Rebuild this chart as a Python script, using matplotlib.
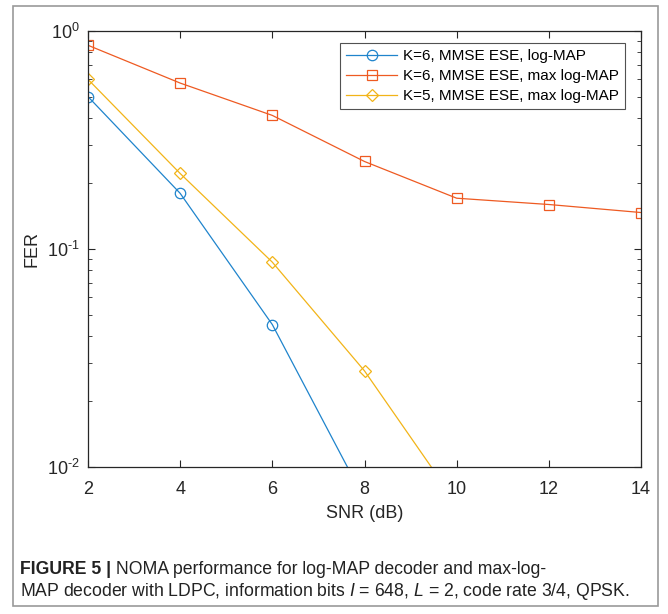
import matplotlib
matplotlib.use("Agg")
import matplotlib.pyplot as plt
from matplotlib.patches import Rectangle
from matplotlib.ticker import LogLocator, NullFormatter, FixedLocator, FixedFormatter

plt.rcParams['font.family'] = ['Liberation Sans', 'DejaVu Sans']
plt.rcParams['mathtext.fontset'] = 'custom'
plt.rcParams['mathtext.rm'] = 'Liberation Sans'
plt.rcParams['mathtext.it'] = 'Liberation Sans:italic'
plt.rcParams['mathtext.bf'] = 'Liberation Sans:bold'

snr_k6_log = [2, 4, 6, 8]
fer_k6_log = [0.50, 0.18, 0.045, 0.0071]
snr_k6_max = [2, 4, 6, 8, 10, 12, 14]
fer_k6_max = [0.86, 0.577, 0.41, 0.252, 0.171, 0.160, 0.147]
snr_k5_max = [2, 4, 6, 8, 10]
fer_k5_max = [0.60, 0.222, 0.087, 0.0276, 0.0068]
labels = ["K=6, MMSE ESE, log-MAP", "K=6, MMSE ESE, max log-MAP", "K=5, MMSE ESE, max log-MAP"]
xticks = [2, 4, 6, 8, 10, 12, 14]
yticks = [1e-2, 1e-1, 1]
ytick_labels = [r'$10^{\text{-}2}$', r'$10^{\text{-}1}$', r'$10^{0}$']

W, H = 668, 614
fig = plt.figure(figsize=(W / 100, H / 100), dpi=100)
fig.patch.set_facecolor('white')
frame = Rectangle((13 / W, 1 - 606 / H), 645 / W, 600 / H, transform=fig.transFigure,
                  facecolor='white', edgecolor='#9a9a9a', linewidth=1.2, zorder=-5)
fig.patches.append(frame)

ax = fig.add_axes([88 / W, 1 - 467 / H, 553 / W, 436 / H])
ax.set_zorder(2)
ax.plot(snr_k6_log, fer_k6_log, '-o', color='#1F84CC', lw=0.9, ms=7.5, mfc='none', mew=0.9, label=labels[0])
ax.plot(snr_k6_max, fer_k6_max, '-s', color='#EE5A22', lw=0.9, ms=7.5, mfc='none', mew=0.9, label=labels[1])
ax.plot(snr_k5_max, fer_k5_max, '-D', color='#F2B418', lw=0.9, ms=6.5, mfc='none', mew=0.9, label=labels[2])

ax.set_yscale('log')
ax.set_xlim(2, 14)
ax.set_ylim(1e-2, 1)
ax.set_xticks(xticks)
ax.set_xticklabels([str(v) for v in xticks])
ax.yaxis.set_major_locator(FixedLocator(yticks))
ax.yaxis.set_major_formatter(FixedFormatter(ytick_labels))
ax.yaxis.set_minor_locator(LogLocator(base=10, subs=range(2, 10)))
ax.yaxis.set_minor_formatter(NullFormatter())
ax.tick_params(which='both', direction='in', top=True, right=True, labelsize=13, colors='#262626')
ax.tick_params(which='major', length=5, width=0.8)
ax.tick_params(which='minor', length=3, width=0.6)
ax.tick_params(axis='x', pad=10)
ax.tick_params(axis='y', pad=6)
for s in ax.spines.values():
    s.set_color('#262626')
    s.set_linewidth(0.9)
ax.set_xlabel('SNR (dB)', fontsize=13, color='#262626', labelpad=5)
ax.set_ylabel('FER', fontsize=13, color='#262626')
ax.yaxis.set_label_coords(-(88 - 40) / 553, 0.5)

leg = ax.legend(loc='upper right', bbox_to_anchor=((625 - 88) / 553, (467 - 43) / 436), borderaxespad=0,
                fontsize=11.0, frameon=True, fancybox=False, edgecolor='#262626', handlelength=3.3,
                labelspacing=0.4, borderpad=0.4, handletextpad=0.4)
leg.get_frame().set_linewidth(0.8)

cap_fs = 12.7
t1 = fig.text(20 / W, 1 - 569 / H, 'FIGURE 5 |', fontsize=cap_fs, fontweight='bold', color='#222222', va='center')
ax.annotate(' NOMA performance for log-MAP decoder and max-log-', xy=(1, 0.5), xycoords=t1,
            va='center', ha='left', fontsize=cap_fs, color='#222222', annotation_clip=False)
fig.text(20 / W, 1 - 591 / H, 'MAP decoder with LDPC, information bits $I$ = 648, $L$ = 2, code rate 3/4, QPSK.',
         fontsize=cap_fs, color='#222222', va='center')

fig.savefig('out.png', dpi=100)
